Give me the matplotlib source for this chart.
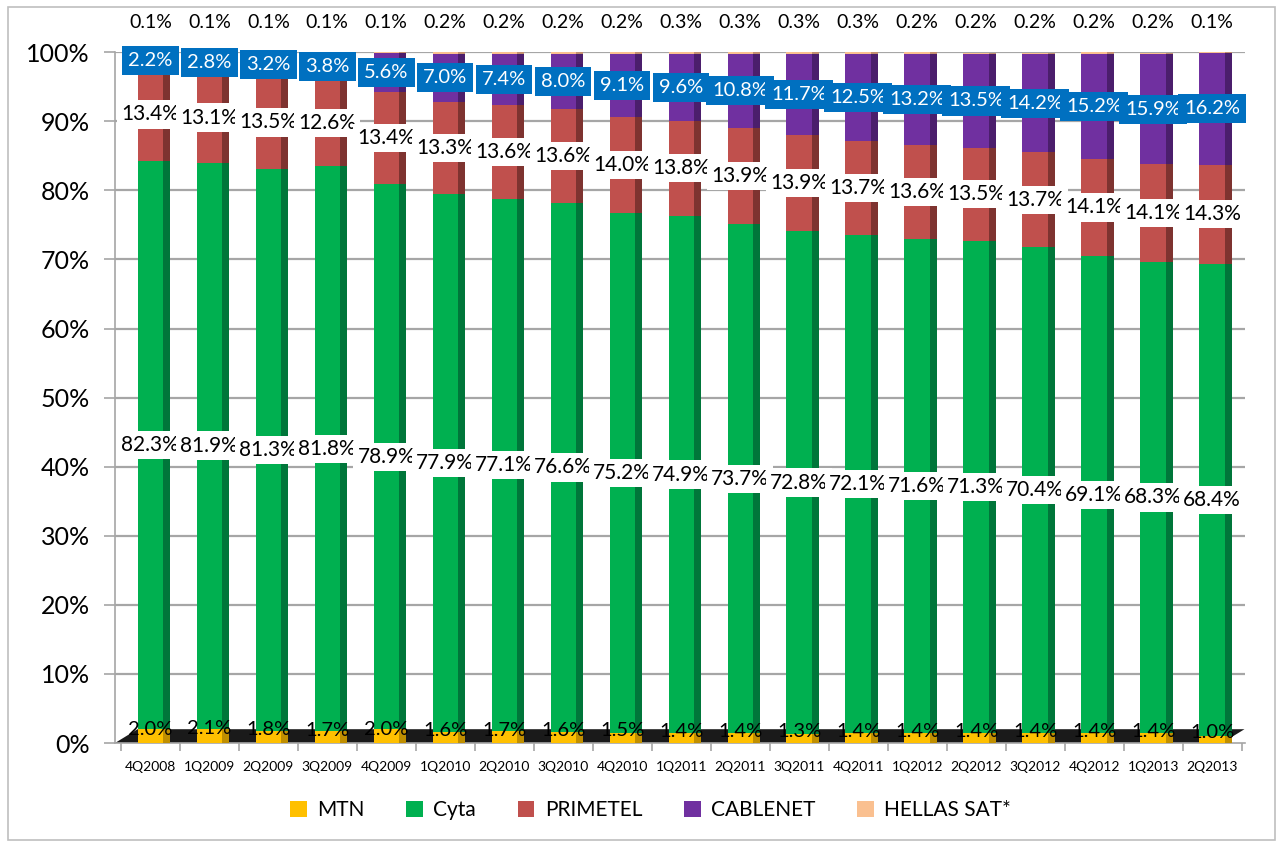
import matplotlib
matplotlib.use("Agg")
import matplotlib.pyplot as plt
from matplotlib.patches import Rectangle, Polygon
import numpy as np

categories = ["4Q2008", "1Q2009", "2Q2009", "3Q2009", "4Q2009", "1Q2010", "2Q2010",
              "3Q2010", "4Q2010", "1Q2011", "2Q2011", "3Q2011", "4Q2011", "1Q2012",
              "2Q2012", "3Q2012", "4Q2012", "1Q2013", "2Q2013"]
mtn = [2.0, 2.1, 1.8, 1.7, 2.0, 1.6, 1.7, 1.6, 1.5, 1.4, 1.4, 1.3, 1.4, 1.4, 1.4, 1.4, 1.4, 1.4, 1.0]
cyta = [82.3, 81.9, 81.3, 81.8, 78.9, 77.9, 77.1, 76.6, 75.2, 74.9, 73.7, 72.8, 72.1, 71.6,
        71.3, 70.4, 69.1, 68.3, 68.4]
primetel = [13.4, 13.1, 13.5, 12.6, 13.4, 13.3, 13.6, 13.6, 14.0, 13.8, 13.9, 13.9, 13.7,
            13.6, 13.5, 13.7, 14.1, 14.1, 14.3]
cablenet = [2.2, 2.8, 3.2, 3.8, 5.6, 7.0, 7.4, 8.0, 9.1, 9.6, 10.8, 11.7, 12.5, 13.2, 13.5,
            14.2, 15.2, 15.9, 16.2]
hellas = [0.1, 0.1, 0.1, 0.1, 0.1, 0.2, 0.2, 0.2, 0.2, 0.3, 0.3, 0.3, 0.3, 0.2, 0.2, 0.2,
          0.2, 0.2, 0.1]
series_names = ["MTN", "Cyta", "PRIMETEL", "CABLENET", "HELLAS SAT*"]
yticks = [0, 10, 20, 30, 40, 50, 60, 70, 80, 90, 100]

colors = ["#FFC000", "#00B050", "#C0504D", "#7030A0", "#FAC090"]
side_colors = ["#C08F00", "#00763A", "#7E3330", "#4B1E6C", "#C49070"]

plt.rcParams['font.family'] = ['Lato', 'DejaVu Sans']

fig = plt.figure(figsize=(12.83, 8.43), dpi=100)
fig.patches.append(Rectangle((0.006, 0.004), 0.988, 0.988, transform=fig.transFigure,
                             fill=False, edgecolor="#BFBFBF", linewidth=1.2))
ax = fig.add_axes([0.0896, 0.1186, 0.8804, 0.8194])

data = [mtn, cyta, primetel, cablenet, hellas]
x = np.arange(len(categories))
w = 0.43
sw = 0.12

ax.set_ylim(0, 100)
ax.set_xlim(-0.6, 18.55)

for yv in yticks[1:]:
    ax.axhline(yv, color="#A6A6A6", linewidth=1.6, zorder=0)

# floor
ax.add_patch(Polygon([[0.0, 0.0], [0.98, 0.0], [1.0, 0.02], [0.02, 0.02]],
                     closed=True, transform=ax.transAxes, facecolor="#1a1a1a",
                     edgecolor="none", zorder=1, clip_on=False))

bottom = np.zeros(len(categories))
for vals, c, sc, name in zip(data, colors, side_colors, series_names):
    vals = np.array(vals)
    ax.bar(x, vals, width=w, bottom=bottom, color=c, edgecolor="none", zorder=3, label=name)
    ax.bar(x + w / 2 + sw / 2, vals, width=sw, bottom=bottom, color=sc, edgecolor="none", zorder=3)
    bottom = bottom + vals

# labels
cum = np.zeros(len(categories))
for si, vals in enumerate(data):
    vals = np.array(vals)
    for i, v in enumerate(vals):
        lab = f"{v:.1f}%"
        if si == 4:
            ax.text(x[i], 104.3, lab, ha="center", va="center", fontsize=14,
                    color="black", clip_on=False, zorder=6)
        elif si == 3:
            ax.text(x[i], cum[i] + v / 2, lab, ha="center", va="center", fontsize=14.5,
                    color="white", zorder=6,
                    bbox=dict(boxstyle="square,pad=0.3", facecolor="#0070C0", edgecolor="none"))
        elif si == 0:
            ax.text(x[i], cum[i] + v / 2 + 1.0, lab, ha="center", va="center", fontsize=14.5,
                    color="black", zorder=6)
        else:
            ax.text(x[i], cum[i] + v / 2, lab, ha="center", va="center", fontsize=15,
                    color="black", zorder=6,
                    bbox=dict(boxstyle="square,pad=0.2", facecolor="white", edgecolor="none"))
    cum = cum + vals

ax.set_yticks(yticks)
ax.set_yticklabels([f"{v}%" for v in yticks], fontsize=18)
ax.set_xticks(x)
ax.set_xticklabels(categories, fontsize=10)
ax.set_xticks(np.arange(len(categories) + 1) - 0.5, minor=True)
ax.tick_params(axis="x", which="major", length=0, pad=13)
ax.tick_params(axis="x", which="minor", length=6, color="#A6A6A6", width=1.2)
ax.tick_params(axis="y", length=8, color="#A6A6A6", width=1.2, pad=10)

for s in ["top", "right"]:
    ax.spines[s].set_visible(False)
ax.spines["left"].set_color("#A6A6A6")
ax.spines["left"].set_linewidth(1.2)
ax.spines["bottom"].set_color("#A6A6A6")
ax.spines["bottom"].set_linewidth(1.2)

handles, labels = ax.get_legend_handles_labels()
fig.legend(handles, labels, loc="center", bbox_to_anchor=(0.507, 0.039), ncol=5,
           frameon=False, fontsize=15, handlelength=0.8, handleheight=0.8,
           columnspacing=2.0, handletextpad=0.5)

fig.savefig("out.png", dpi=100)
